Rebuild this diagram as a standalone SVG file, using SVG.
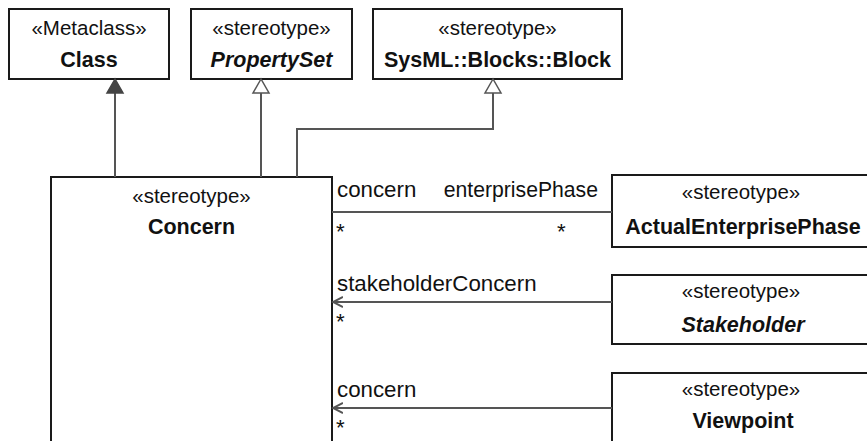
<svg xmlns="http://www.w3.org/2000/svg" width="867" height="441" viewBox="0 0 867 441">
<style>
.box{fill:#fff;stroke:#1a1a1a;stroke-width:2}
.st{font-family:"Liberation Sans",Arial,sans-serif;font-size:20.5px;fill:#111;text-anchor:middle}
.nm{font-family:"Liberation Sans",Arial,sans-serif;font-size:21.5px;font-weight:bold;fill:#111;text-anchor:middle}
.it{font-style:italic}
.lb{font-family:"Liberation Sans",Arial,sans-serif;font-size:22.3px;fill:#111}
.ln{fill:none;stroke:#555;stroke-width:2}
</style>
<defs>
<marker id="open" markerWidth="12" markerHeight="12" refX="10" refY="5" orient="auto" markerUnits="userSpaceOnUse" viewBox="0 0 12 10">
<path d="M0,0 L10,5 L0,10" fill="none" stroke="#555" stroke-width="2"/>
</marker>
</defs>
<g id="Class">
<rect class="box" x="9" y="9" width="160" height="70"/>
<text class="st" x="89" y="35">«Metaclass»</text>
<text class="nm" x="89" y="67">Class</text>
</g>
<g id="PropertySet">
<rect class="box" x="191" y="9" width="161" height="70"/>
<text class="st" x="271.5" y="35">«stereotype»</text>
<text class="nm it" x="271.5" y="67">PropertySet</text>
</g>
<g id="Block">
<rect class="box" x="373" y="9" width="249" height="70"/>
<text class="st" x="497.5" y="35">«stereotype»</text>
<text class="nm" x="497.5" y="67">SysML::Blocks::Block</text>
</g>
<g id="Concern">
<rect class="box" x="51" y="177" width="281" height="290"/>
<text class="st" x="191.5" y="203">«stereotype»</text>
<text class="nm" x="191.5" y="234">Concern</text>
</g>
<g id="ActualEnterprisePhase">
<rect class="box" x="612" y="175" width="262" height="72"/>
<text class="st" x="741" y="199">«stereotype»</text>
<text class="nm" x="743" y="234">ActualEnterprisePhase</text>
</g>
<g id="Stakeholder">
<rect class="box" x="612" y="275" width="262" height="69"/>
<text class="st" x="741" y="298">«stereotype»</text>
<text class="nm it" x="743" y="332">Stakeholder</text>
</g>
<g id="Viewpoint">
<rect class="box" x="612" y="373" width="262" height="90"/>
<text class="st" x="741" y="396">«stereotype»</text>
<text class="nm" x="743" y="428">Viewpoint</text>
</g>
<g id="connectors">
<path class="ln" d="M115,177 V93"/>
<path d="M115,79 L107,93 L123,93 Z" fill="#444" stroke="#444" stroke-width="1.5"/>
<path class="ln" d="M261,177 V93"/>
<path d="M261,79 L253,93 L269,93 Z" fill="#fff" stroke="#555" stroke-width="1.5"/>
<path class="ln" d="M297,177 V129 H493 V93"/>
<path d="M493,79 L485,93 L501,93 Z" fill="#fff" stroke="#555" stroke-width="1.5"/>
<path class="ln" d="M332,212 H612"/>
<path class="ln" d="M612,302 H333" marker-end="url(#open)"/>
<path class="ln" d="M612,408 H333" marker-end="url(#open)"/>
<text class="lb" x="337" y="197">concern</text>
<text class="lb" x="598" y="197" text-anchor="end" style="font-size:21.2px">enterprisePhase</text>
<text class="lb" x="336" y="239">*</text>
<text class="lb" x="557" y="239">*</text>
<text class="lb" x="337" y="291">stakeholderConcern</text>
<text class="lb" x="336" y="329">*</text>
<text class="lb" x="337" y="397">concern</text>
<text class="lb" x="336" y="435">*</text>
</g>
</svg>
